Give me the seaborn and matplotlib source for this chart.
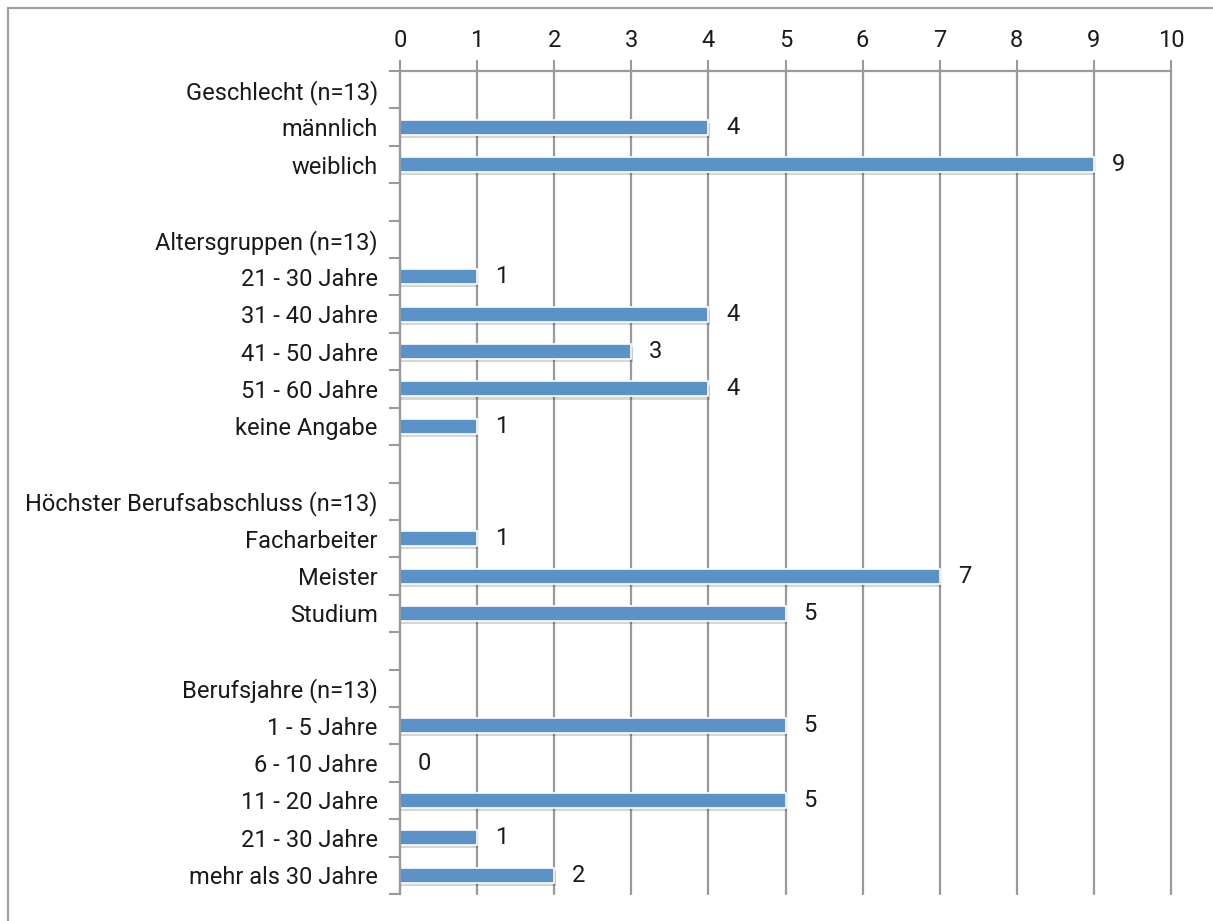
import numpy as np
import pandas as pd
import matplotlib
matplotlib.use("Agg")
import matplotlib.pyplot as plt
import matplotlib.patheffects as pe
from matplotlib.patches import Rectangle
import seaborn as sns

# Row labels from top to bottom; blank strings are spacer rows,
# header rows carry no value.
labels = [
    "Geschlecht (n=13)", "männlich", "weiblich", "",
    "Altersgruppen (n=13)", "21 - 30 Jahre", "31 - 40 Jahre", "41 - 50 Jahre",
    "51 - 60 Jahre", "keine Angabe", "",
    "Höchster Berufsabschluss (n=13)", "Facharbeiter", "Meister", "Studium", "",
    "Berufsjahre (n=13)", "1 - 5 Jahre", "6 - 10 Jahre", "11 - 20 Jahre",
    "21 - 30 Jahre", "mehr als 30 Jahre",
]
values = [
    None, 4, 9, None,
    None, 1, 4, 3, 4, 1, None,
    None, 1, 7, 5, None,
    None, 5, 0, 5, 1, 2,
]
x_ticks = list(range(0, 11))

sns.set_theme(style="white")
plt.rcParams["font.family"] = ["Roboto", "DejaVu Sans"]

FS = 17
row_ids = [f"row{i:02d}" for i in range(len(labels))]
df = pd.DataFrame({"row": row_ids, "value": values, "label": labels})
df_bars = df.dropna(subset=["value"])

fig = plt.figure(figsize=(12.13, 9.21), dpi=100)
ax = fig.add_axes([400 / 1213, 1 - 894 / 921, 771 / 1213, (894 - 71) / 921])

bar_color = "#5b93c8"
sns.barplot(data=df_bars, x="value", y="row", order=row_ids, orient="h",
            color=bar_color, width=0.40, saturation=1, ax=ax,
            edgecolor="white", linewidth=1.2)

for patch in ax.patches:
    patch.set_path_effects([
        pe.SimplePatchShadow(offset=(1.0, -2.2), shadow_rgbFace="#000000", alpha=0.16),
        pe.Normal(),
    ])

# value labels right of each bar
for i, v in enumerate(values):
    if v is None:
        continue
    ax.text(v + 0.32, i, f"{int(v)}", va="center", ha="center",
            fontsize=FS, color="#1a1a1a")

ax.set_xlim(0, 10)
ax.set_ylim(len(labels) - 0.5, -0.5)
ax.set_xticks(x_ticks)
ax.xaxis.tick_top()
ax.set_xlabel("")
ax.set_ylabel("")
ax.tick_params(axis="x", which="major", length=8, width=1.5, color="#9a9a9a",
               labelsize=FS, labelcolor="#1a1a1a", pad=6)
ax.set_yticks(range(len(labels)))
ax.set_yticklabels(labels)
ax.tick_params(axis="y", which="major", length=0, labelsize=FS,
               labelcolor="#1a1a1a", pad=16)
ax.set_yticks(np.arange(-0.5, len(labels), 1.0), minor=True)
ax.tick_params(axis="y", which="minor", length=8, width=1.5, color="#9a9a9a",
               left=True)

ax.grid(axis="x", color="#9a9a9a", linewidth=1.6)
for gl in ax.get_xgridlines():
    gl.set_clip_on(False)
ax.set_axisbelow(True)
for side in ["right", "bottom"]:
    ax.spines[side].set_visible(False)
for side in ["left", "top"]:
    ax.spines[side].set_color("#9a9a9a")
    ax.spines[side].set_linewidth(1.6)

# outer chart frame
fig.patches.append(Rectangle((8 / 1213, -0.1), 1.2, 1 - 8 / 921 + 0.1,
                             transform=fig.transFigure, fill=False,
                             edgecolor="#a0a0a0", linewidth=1.6))

fig.savefig("out.png", dpi=100)
